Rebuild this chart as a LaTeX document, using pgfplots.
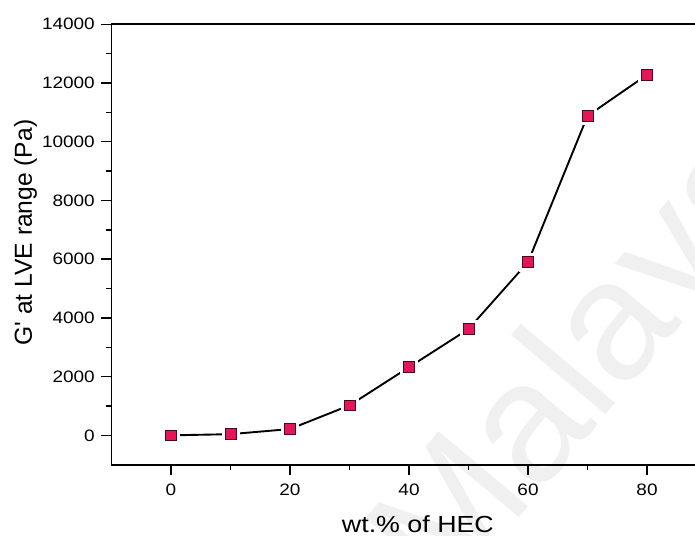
\documentclass[border=0pt]{standalone}
\usepackage{fontspec}
\setmainfont{Liberation Sans}[Ligatures=TeXOff]
\newfontfamily\widefont[FakeStretch=1.15,Ligatures=TeXOff]{Liberation Sans}
\usepackage{pgfplots}
\usepackage{pgfplotstable}
\pgfplotsset{compat=1.18}

\definecolor{markred}{RGB}{228,22,88}
\definecolor{markedge}{RGB}{70,10,30}

% storage modulus in the linear viscoelastic range vs. HEC content
\pgfplotstableread{
hec   G
0     0
10    40
20    215
30    1020
40    2320
50    3620
60    5900
70    10880
80    12280
}\modulus

\begin{document}
\begin{tikzpicture}
% faint background watermark
\node[rotate=50, anchor=base west, text=black!6, inner sep=0pt,
      font=\fontsize{170}{170}\selectfont] at (335pt,-140pt) {Malaya};
\begin{axis}[
  at={(0pt,0pt)}, anchor=south west,
  scale only axis, width=595pt, height=440.4pt,
  xmin=-10, xmax=90, ymin=-1000, ymax=14000,
  xtick={0,20,40,60,80}, minor xtick={10,30,50,70},
  ytick={0,2000,4000,6000,8000,10000,12000,14000},
  minor ytick={1000,3000,5000,7000,9000,11000,13000},
  tick align=outside, xtick pos=bottom, ytick pos=left,
  major tick length=10pt, minor tick length=5pt,
  every tick/.style={black, line width=1.4pt},
  every minor tick/.style={black, line width=1.4pt},
  axis line style={line width=1.6pt},
  scaled y ticks=false,
  /pgf/number format/assume math mode=true,
  /pgf/number format/set thousands separator={},
  tick label style={font=\widefont\fontsize{16.5}{18}\selectfont},
  yticklabel style={anchor=east, inner sep=0pt, xshift=-6.5pt},
  xticklabel style={anchor=north, inner sep=0pt, yshift=-9.3pt},
  xlabel={wt.\% of HEC},
  ylabel={G' at LVE range (Pa)},
  xlabel style={font=\widefont\fontsize{23.3}{26}\selectfont,
    at={([yshift=-67.3pt]axis description cs:0.515,0)}, anchor=base, inner sep=0pt},
  ylabel style={font=\fontsize{24.6}{28}\selectfont,
    at={([xshift=-79.5pt]axis description cs:0,0.527)}, anchor=base, inner sep=0pt},
  clip=false,
]
\addplot[black, line width=1.9pt, mark=none] table[x=hec, y=G] {\modulus};
% white halo leaves a small gap in the line around each marker
\addplot[only marks, mark=square*, mark size=8.6pt,
         mark options={fill=white, draw=white}] table[x=hec, y=G] {\modulus};
\addplot[only marks, mark=square*, mark size=5.4pt,
         mark options={fill=markred, draw=markedge, line width=0.7pt}] table[x=hec, y=G] {\modulus};
\end{axis}
\pgfresetboundingbox
\path (-111.5pt,-70.3pt) rectangle (583.5pt,464.7pt);
\end{tikzpicture}
\end{document}
